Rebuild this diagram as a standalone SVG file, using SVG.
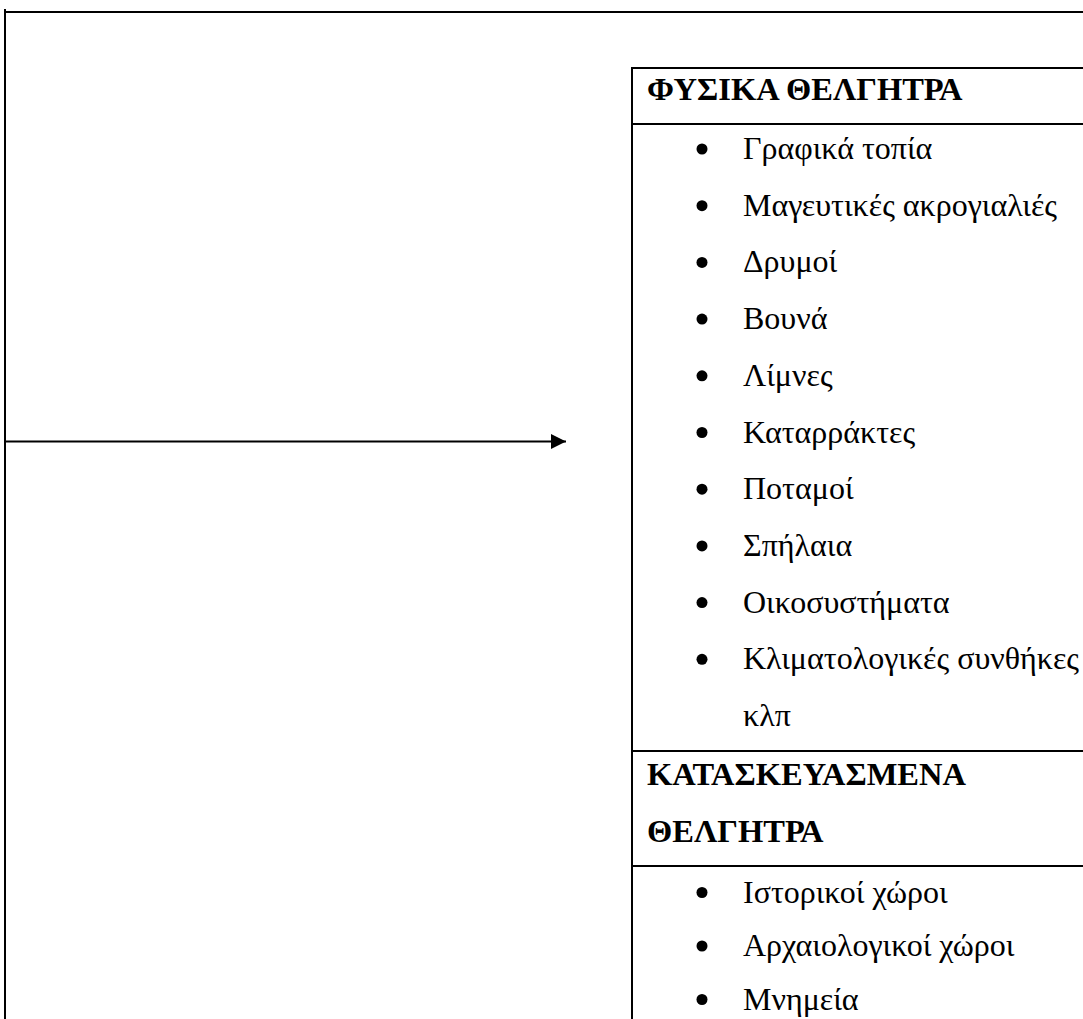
<svg xmlns="http://www.w3.org/2000/svg" width="1083" height="1019" viewBox="0 0 1083 1019">
<style>
.ln{stroke:#000;stroke-width:2;fill:none}
.h{font-family:"Liberation Serif","Times New Roman",serif;font-weight:bold;font-size:32.5px;fill:#000}
.t{font-family:"Liberation Serif","Times New Roman",serif;font-size:32px;fill:#000}
.b{fill:#000}
</style>
<defs>
<marker id="arr" markerWidth="16" markerHeight="16" refX="15" refY="7.5" orient="auto" markerUnits="userSpaceOnUse">
<path d="M0,0 L15,7.5 L0,15 Z" fill="#000"/>
</marker>
</defs>
<rect width="1083" height="1019" fill="#fff"/>
<g id="connectors">
<line class="ln" x1="4" y1="12" x2="1083" y2="12"/>
<line class="ln" x1="5" y1="9" x2="5" y2="1019"/>
<line class="ln" x1="5" y1="441.5" x2="566" y2="441.5" marker-end="url(#arr)"/>
</g>
<g id="attractions-table">
<line class="ln" x1="632" y1="68" x2="1083" y2="68"/>
<line class="ln" x1="632" y1="67" x2="632" y2="1019"/>
<line class="ln" x1="632" y1="124" x2="1083" y2="124"/>
<line class="ln" x1="632" y1="751" x2="1083" y2="751"/>
<line class="ln" x1="632" y1="866" x2="1083" y2="866"/>
<g id="natural">
<text class="h" x="647" y="100">ΦΥΣΙΚΑ ΘΕΛΓΗΤΡΑ</text>
<circle class="b" cx="702" cy="149" r="5.5"/><text class="t" x="743" y="159">Γραφικά τοπία</text>
<circle class="b" cx="702" cy="205.7" r="5.5"/><text class="t" x="743" y="215.7">Μαγευτικές ακρογιαλιές</text>
<circle class="b" cx="702" cy="262.4" r="5.5"/><text class="t" x="743" y="272.4">Δρυμοί</text>
<circle class="b" cx="702" cy="319.1" r="5.5"/><text class="t" x="743" y="329.1">Βουνά</text>
<circle class="b" cx="702" cy="375.8" r="5.5"/><text class="t" x="743" y="385.8">Λίμνες</text>
<circle class="b" cx="702" cy="432.5" r="5.5"/><text class="t" x="743" y="442.5">Καταρράκτες</text>
<circle class="b" cx="702" cy="489.2" r="5.5"/><text class="t" x="743" y="499.2">Ποταμοί</text>
<circle class="b" cx="702" cy="545.9" r="5.5"/><text class="t" x="743" y="555.9">Σπήλαια</text>
<circle class="b" cx="702" cy="602.6" r="5.5"/><text class="t" x="743" y="612.6">Οικοσυστήματα</text>
<circle class="b" cx="702" cy="659.3" r="5.5"/><text class="t" x="743" y="669.3">Κλιματολογικές συνθήκες</text>
<text class="t" x="743" y="726">κλπ</text>
</g>
<g id="constructed">
<text class="h" x="647" y="785">ΚΑΤΑΣΚΕΥΑΣΜΕΝΑ</text>
<text class="h" x="647" y="842">ΘΕΛΓΗΤΡΑ</text>
<circle class="b" cx="702" cy="892.5" r="5.5"/><text class="t" x="743" y="902.5">Ιστορικοί χώροι</text>
<circle class="b" cx="702" cy="946" r="5.5"/><text class="t" x="743" y="956">Αρχαιολογικοί χώροι</text>
<circle class="b" cx="702" cy="999.5" r="5.5"/><text class="t" x="743" y="1009.5">Μνημεία</text>
</g>
</g>
</svg>
